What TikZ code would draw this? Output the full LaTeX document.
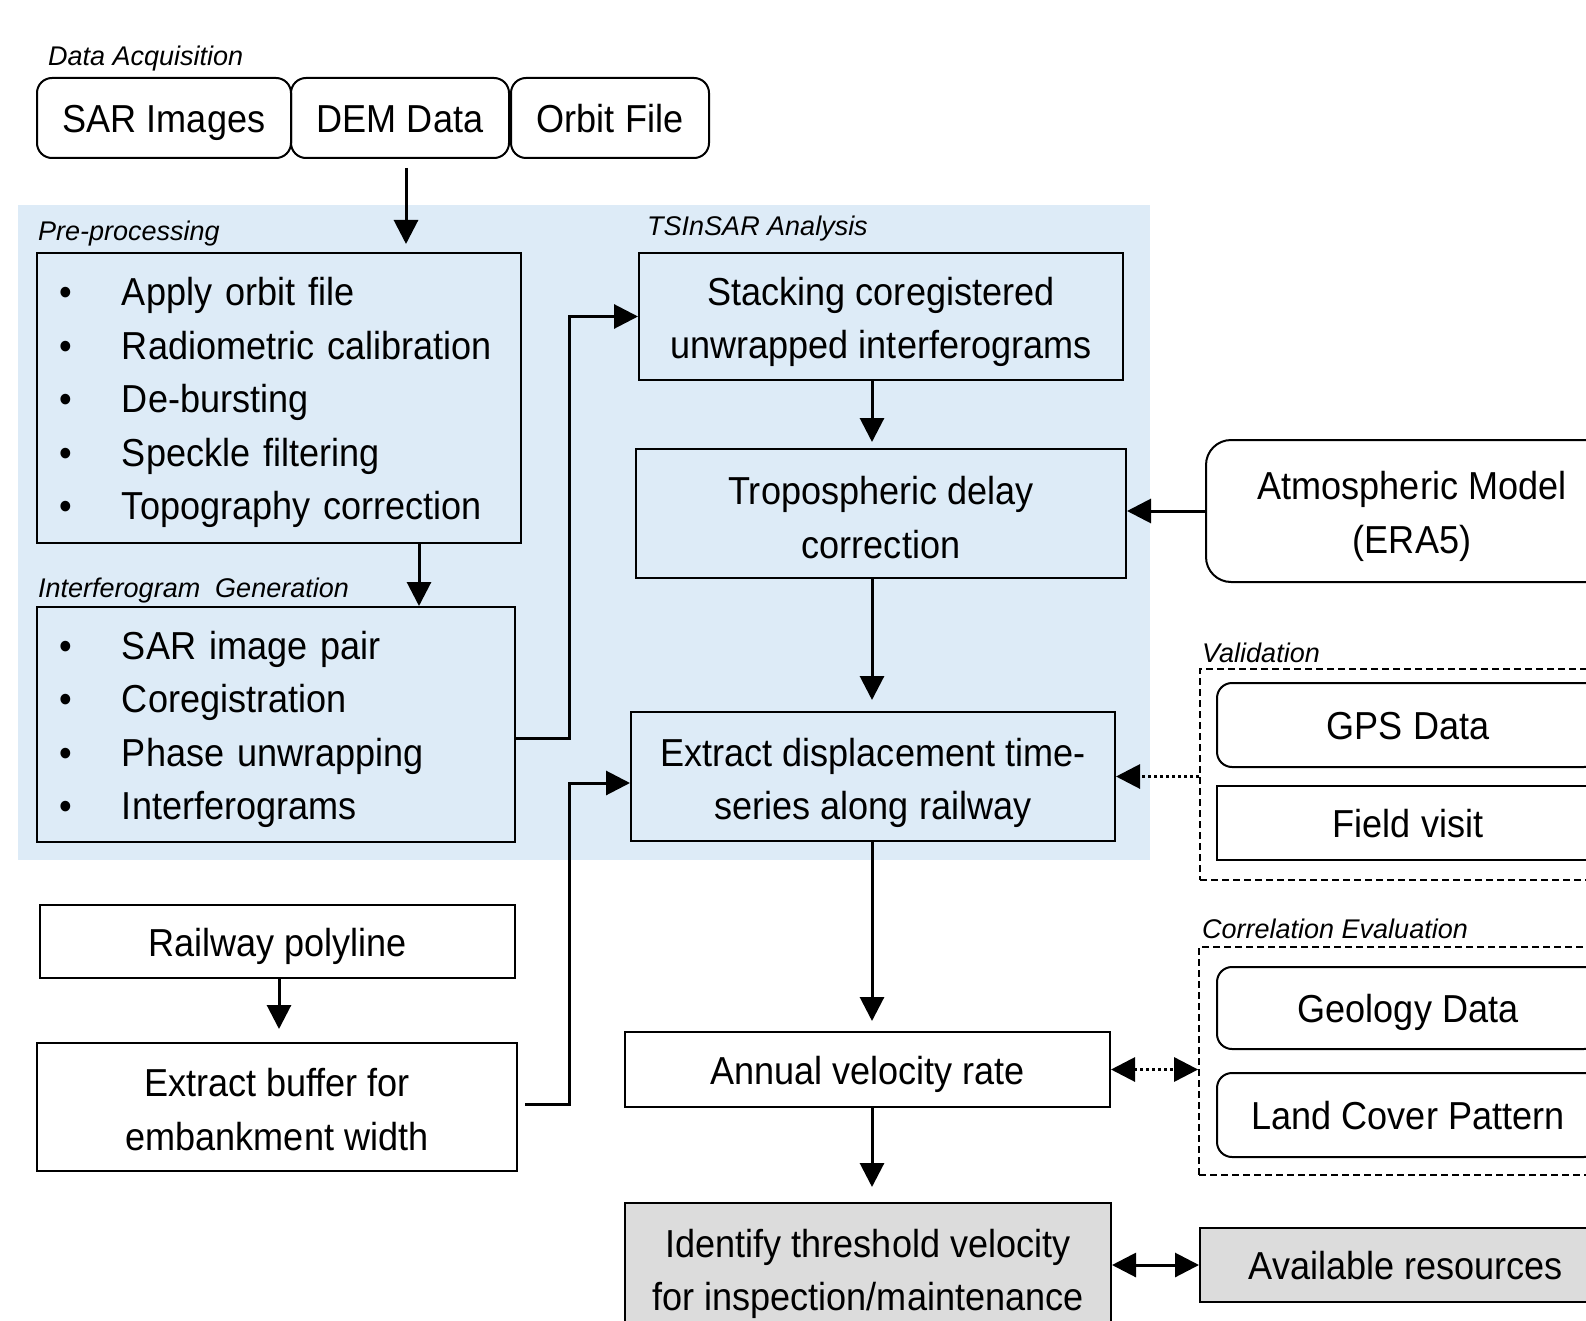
\documentclass[tikz,border=0pt]{standalone}
\usepackage{fontspec}
\setmainfont[FakeStretch=0.925]{Liberation Sans}
\newfontfamily\lblfont{Liberation Sans}
\usetikzlibrary{arrows.meta}
\definecolor{tsblue}{HTML}{DDEBF7}
\definecolor{outgray}{HTML}{DCDCDC}
\newcommand{\blt}{\makebox[63pt][l]{\textbullet}}
\newcommand{\lowr}[1]{\rule{0pt}{#1}}

\tikzset{
  box/.style={draw=black, line width=2pt, rectangle, align=center, inner sep=0pt,
    font=\fontsize{39}{53.5}\selectfont, execute at begin node={\rule[-9pt]{0pt}{47pt}}},
  rbox/.style={box, rounded corners=15pt},
  listbox/.style={box, align=left, inner xsep=22pt},
  grp/.style={draw=black, line width=1.8pt, dash pattern=on 7pt off 4pt, rectangle, inner sep=0pt},
  lbl/.style={anchor=base west, inner sep=0pt, font=\lblfont\itshape\fontsize{27}{30}\selectfont},
  arr/.style={line width=3pt, -{Triangle[length=24pt,width=24pt]}},
  dotarr/.style={arr, dash pattern=on 3pt off 3pt},
  dblarr/.style={line width=3pt, {Triangle[length=24pt,width=24pt]}-{Triangle[length=24pt,width=24pt]}},
  dbldot/.style={dblarr, dash pattern=on 3pt off 3pt}
}

\begin{document}
\begin{tikzpicture}[x=1pt,y=-1pt]
            \useasboundingbox (0,0) rectangle (1586,1321);
            \clip (0,0) rectangle (1586,1321);
            % Shaded TSInSAR area
            \fill[tsblue] (18,205) rectangle (1150,860);

            % Section labels
            \node[lbl] (lacq) at (48,66) {Data Acquisition};
            \node[lbl] (lpre) at (38,241) {Pre-processing};
            \node[lbl] (lint) at (38,597) {Interferogram\ \ Generation};
            \node[lbl] (lts) at (647,236) {TSInSAR Analysis};
            \node[lbl] (lval) at (1202,662) {Validation};
            \node[lbl] (lcor) at (1202,938) {Correlation Evaluation};

            % Input data
            \node[rbox, minimum width=254pt, minimum height=80pt] (sar) at (164,118) {SAR Images};
            \node[rbox, minimum width=218pt, minimum height=80pt] (dem) at (400,118) {DEM Data};
            \node[rbox, minimum width=198pt, minimum height=80pt] (orbit) at (610,118) {Orbit File};

            % Left column
            \node[listbox, text width=440pt, minimum height=290pt] (prep) at (279,398)
              {\blt Apply orbit file\\\blt Radiometric calibration\\\blt De-bursting\\\blt Speckle filtering\\\blt Topography correction};
            \node[listbox, text width=434pt, minimum height=235pt] (interf) at (276,724.5)
              {\blt SAR image pair\\\blt Coregistration\\\blt Phase unwrapping\\\blt Interferograms};
            \node[box, minimum width=475pt, minimum height=73pt] (rail) at (277.5,941.5) {Railway polyline};
            \node[box, minimum width=480pt, minimum height=128pt] (buffer) at (277,1107) {\lowr{42pt}Extract buffer for\\embankment width};

            % Middle column
            \node[box, minimum width=484pt, minimum height=127pt] (stack) at (881,316.5) {\lowr{40pt}Stacking coregistered\\unwrapped interferograms};
            \node[box, minimum width=490pt, minimum height=129pt] (tropo) at (881,513.5) {\lowr{45pt}Tropospheric delay\\correction};
            \node[box, minimum width=484pt, minimum height=129pt] (extract) at (873,776.5) {\lowr{42pt}Extract displacement time-\\series along railway};
            \node[box, minimum width=485pt, minimum height=75pt] (annual) at (867.5,1069.5) {Annual velocity rate};
            \node[box, fill=outgray, minimum width=486pt, minimum height=121pt] (ident) at (868,1263.5) {\lowr{50pt}Identify threshold velocity\\for inspection/maintenance};

            % Right column
            \node[rbox, rounded corners=25pt, minimum width=412pt, minimum height=142pt] (atm) at (1412,511) {\lowr{40pt}Atmospheric Model\\(ERA5)};
            \node[grp, minimum width=440pt, minimum height=211pt] (valid) at (1420,774.5) {};
            \node[rbox, minimum width=382pt, minimum height=84pt] (gps) at (1408,725) {GPS Data};
            \node[box, minimum width=382pt, minimum height=74pt] (field) at (1408,823) {Field visit};
            \node[grp, minimum width=441pt, minimum height=228pt] (corr) at (1419.5,1061) {};
            \node[rbox, minimum width=382pt, minimum height=82pt] (geol) at (1408,1008) {Geology Data};
            \node[rbox, minimum width=382pt, minimum height=84pt] (land) at (1408,1115) {Land Cover Pattern};
            \node[box, fill=outgray, minimum width=412pt, minimum height=74pt] (avail) at (1406,1265) {Available resources};

            % The arrows
            \draw[arr, shorten <=9pt, shorten >=8pt] ([xshift=6pt]dem.south) -- ([xshift=6pt]dem.south |- prep.north);
            \draw[arr] ([xshift=140pt]prep.south) -- ([xshift=140pt]prep.south |- interf.north);
            \draw[arr] ([yshift=-13.5pt]interf.east) -- ++(53,0) |- (stack.west);
            \draw[arr, shorten >=6pt] ([xshift=-9pt]stack.south) -- ([xshift=-9pt]stack.south |- tropo.north);
            \draw[arr] (atm.west) -- (atm.west -| tropo.east);
            \draw[arr, shorten >=11pt] ([xshift=-9pt]tropo.south) -- ([xshift=-9pt]tropo.south |- extract.north);
            \draw[dotarr] (extract.east -| valid.west) -- (extract.east);
            \draw[arr, shorten >=13pt] ([xshift=1.5pt]rail.south) -- ([xshift=1.5pt]rail.south |- buffer.north);
            \draw[arr] ([xshift=7pt,yshift=3pt]buffer.east) -- ++(44,0) |- ([yshift=-6.5pt]extract.west);
            \draw[arr, shorten >=10pt] ([xshift=-1pt]extract.south) -- ([xshift=-1pt]extract.south |- annual.north);
            \draw[dbldot] (annual.east) -- (annual.east -| corr.west);
            \draw[arr, shorten >=15pt] ([xshift=4.5pt]annual.south) -- ([xshift=4.5pt]annual.south |- ident.north);
            \draw[dblarr] (ident.east |- avail.west) -- (avail.west);
\end{tikzpicture}
\end{document}
